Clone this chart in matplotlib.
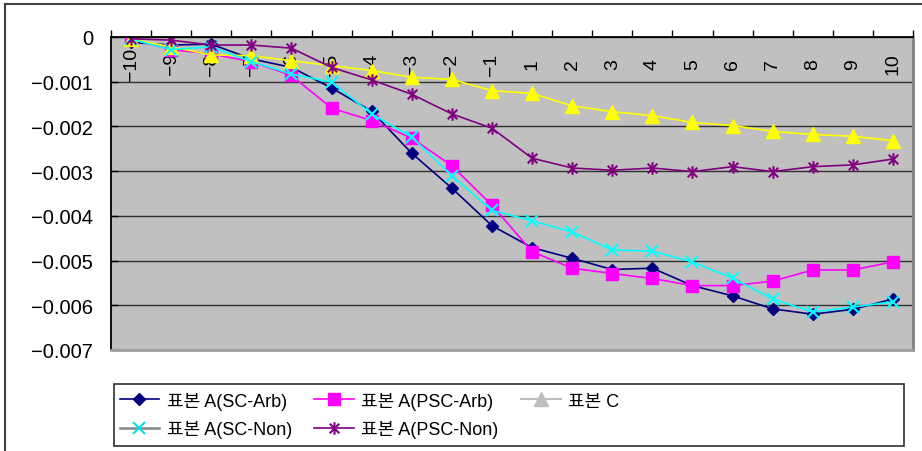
import numpy as np
import matplotlib
matplotlib.use('Agg')
import matplotlib.pyplot as plt
from matplotlib.path import Path
from matplotlib.lines import Line2D
from matplotlib.patches import Rectangle

plt.rcParams['font.family'] = ['Liberation Sans', 'Noto Sans CJK KR', 'DejaVu Sans']

# categories (x axis)
cats = ['\u221210', '\u22129', '\u22128', '\u22127', '\u22126', '\u22125', '\u22124', '\u22123', '\u22122', '\u22121',
        '1', '2', '3', '4', '5', '6', '7', '8', '9', '10']

# series values (x 0.001)
sc_arb = [-0.12, -0.18, -0.16, -0.49, -0.68, -1.14, -1.66, -2.60, -3.38, -4.22,
          -4.71, -4.95, -5.20, -5.17, -5.56, -5.79, -6.08, -6.20, -6.09, -5.86]
psc_arb = [-0.05, -0.28, -0.38, -0.55, -0.86, -1.59, -1.87, -2.26, -2.88, -3.76,
           -4.80, -5.17, -5.29, -5.40, -5.56, -5.56, -5.46, -5.21, -5.21, -5.03]
smp_c = [-0.05, -0.22, -0.40, -0.42, -0.53, -0.64, -0.75, -0.90, -0.95, -1.20,
         -1.26, -1.54, -1.67, -1.76, -1.91, -1.98, -2.11, -2.18, -2.22, -2.32]
sc_non = [-0.05, -0.28, -0.22, -0.55, -0.83, -1.01, -1.72, -2.24, -3.10, -3.88,
          -4.11, -4.36, -4.76, -4.79, -5.03, -5.39, -5.86, -6.15, -6.04, -5.92]
psc_non = [-0.04, -0.07, -0.18, -0.18, -0.25, -0.68, -0.96, -1.28, -1.72, -2.04,
           -2.71, -2.93, -2.98, -2.93, -3.01, -2.90, -3.01, -2.90, -2.86, -2.73]

names = ['표본 A(SC-Arb)', '표본 A(PSC-Arb)', '표본 C', '표본 A(SC-Non)', '표본 A(PSC-Non)']

yticks = [0, -0.001, -0.002, -0.003, -0.004, -0.005, -0.006, -0.007]
ytick_labels = ['0', '\u22120.001', '\u22120.002', '\u22120.003', '\u22120.004', '\u22120.005', '\u22120.006', '\u22120.007']

# excel style star marker: x with a vertical bar
star = Path([(-1, -1), (1, 1), (-1, 1), (1, -1), (0, -1.3), (0, 1.3)],
            [Path.MOVETO, Path.LINETO, Path.MOVETO, Path.LINETO, Path.MOVETO, Path.LINETO])

fig = plt.figure(figsize=(9.22, 4.52), dpi=100)
ax = fig.add_axes([111/922, 1-351/452, (913-111)/922, (351-38)/452])
ax.set_facecolor('#C0C0C0')

x = np.arange(len(cats))
s = 0.001
ax.plot(x, np.array(sc_arb)*s, color='#000080', lw=1.2, marker='D', ms=6.5, mec='#000080', mfc='#000080')
ax.plot(x, np.array(psc_arb)*s, color='#FF00FF', lw=1.2, marker='s', ms=8.5, mec='#FF00FF', mfc='#FF00FF')
ax.plot(x, np.array(smp_c)*s, color='#FFFF00', lw=1.2, marker='^', ms=10, mec='#FFFF00', mfc='#FFFF00')
ax.plot(x, np.array(sc_non)*s, color='#00FFFF', lw=1.2, marker='x', ms=9, mew=1.5, mec='#00FFFF')
ax.plot(x, np.array(psc_non)*s, color='#800080', lw=1.2, marker=star, ms=9, mew=1.5, mec='#800080')

ax.set_xlim(-0.5, len(cats)-0.5)
ax.set_ylim(-0.007, 0)

ax.set_yticks(yticks)
ax.set_yticklabels(ytick_labels)
ax.yaxis.grid(True, color='#303030', lw=1)
ax.tick_params(axis='y', direction='in', length=5, width=1, pad=13, labelsize=14.5)

ax.set_xticks(x)
ax.set_xticklabels(cats, rotation=90)
ax.set_xticks(np.arange(-0.5, len(cats)), minor=True)
ax.tick_params(axis='x', which='both', top=True, bottom=False, labeltop=True, labelbottom=False)
ax.tick_params(axis='x', which='major', length=0, pad=-19, labelsize=14)
ax.tick_params(axis='x', which='minor', direction='out', length=5, width=1)
for lbl in ax.get_xticklabels():
    lbl.set_va('center')

ax.spines['top'].set_color('black')
ax.spines['top'].set_linewidth(1.3)
ax.spines['left'].set_color('black')
ax.spines['left'].set_linewidth(1.3)
ax.spines['right'].set_color('#808080')
ax.spines['right'].set_linewidth(2)
ax.spines['bottom'].set_color('#A0A0A0')
ax.spines['bottom'].set_linewidth(2)

# outer chart border
fig.add_artist(Line2D([5/922, 1], [1-5/452, 1-5/452], transform=fig.transFigure, color='#404040', lw=1.5))
fig.add_artist(Line2D([5/922, 5/922], [0, 1-5/452], transform=fig.transFigure, color='#404040', lw=1.5))

# legend
fig.add_artist(Rectangle((114/922, 1-447/452), 790/922, 62/452, transform=fig.transFigure,
                         fill=False, ec='#303030', lw=1.2))
h_sc_arb = Line2D([], [], color='#000080', lw=1.2, marker='D', ms=6.5, mfc='#000080', mec='#000080')
h_psc_arb = Line2D([], [], color='#FF00FF', lw=1.2, marker='s', ms=8.5, mfc='#FF00FF', mec='#FF00FF')
h_c = Line2D([], [], color='#BEBEBE', lw=1.5, marker='^', ms=10, mfc='#BEBEBE', mec='#BEBEBE')
h_sc_non = Line2D([], [], color='#808888', lw=1.8, marker='x', ms=9, mew=1.5, mec='#00E0E0')
h_psc_non = Line2D([], [], color='#800080', lw=1.2, marker=star, ms=9, mew=1.5, mec='#800080')
handles = [h_sc_arb, h_sc_non, h_psc_arb, h_psc_non, h_c]
labels = [names[0], names[3], names[1], names[4], names[2]]
fig.legend(handles, labels, ncol=3, loc='upper left', bbox_to_anchor=(116/922, 1-389/452),
           frameon=False, fontsize=13, handlelength=2.2, handletextpad=0.4,
           columnspacing=1.25, labelspacing=0.6, borderaxespad=0, borderpad=0.2)

fig.savefig('out.png', dpi=100)
